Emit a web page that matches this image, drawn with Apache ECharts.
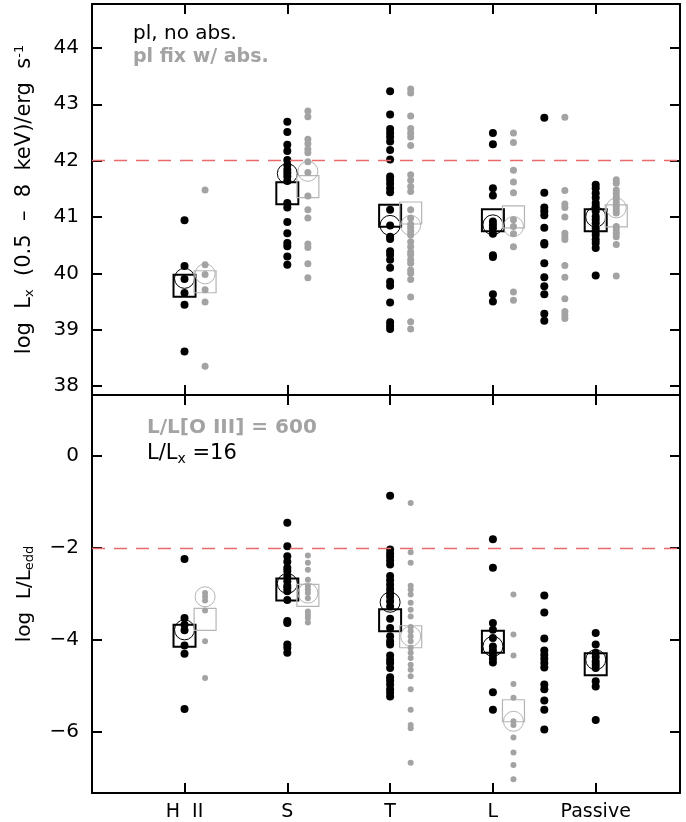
<!DOCTYPE html>
<html><head><meta charset="utf-8">
<script src="https://cdn.jsdelivr.net/npm/echarts@6/dist/echarts.min.js"></script>
<style>html,body{margin:0;padding:0;background:#fff}#c{width:686px;height:822px}</style>
</head><body><div id="c"></div>
<script>
// ---- categories ----
var categoryNames = ['H  II', 'S', 'T', 'L', 'Passive'];
var categoryPos = [1, 2, 3, 4, 5];
var extraGroupPos = 4.5;        // unlabeled group between L and Passive
var greyOffset = 0.2;
var topTicks = [38, 39, 40, 41, 42, 43, 44];
var bottomTicks = [-6, -4, -2, 0];
var thresholdTop = 42;
var thresholdBottom = -2;

// ---- top panel: log Lx ----
var hii_lx_pl  = [40.94, 40.13, 39.90, 39.65, 39.44, 38.61];
var hii_lx_fix = [41.48, 40.15, 39.98, 39.71, 39.49, 38.35];
var s_lx_pl  = [42.69, 42.51, 42.28, 42.17, 42.01, 41.92, 41.84, 41.78, 41.72, 41.64, 41.25, 41.17, 40.91, 40.71, 40.54, 40.48, 40.30, 40.15];
var s_lx_fix = [42.88, 42.78, 42.38, 42.30, 42.20, 42.14, 41.98, 41.79, 41.37, 41.13, 40.98, 40.52, 40.46, 40.17, 39.92];
var t_lx_pl  = [43.23, 42.82, 42.56, 42.49, 42.42, 42.34, 42.19, 42.02, 41.72, 41.66, 41.59, 41.51, 41.44, 41.13, 40.85, 40.65, 40.61, 40.39, 40.33, 40.24, 40.10, 39.85, 39.78, 39.48, 39.13, 39.07, 39.01];
var t_lx_fix = [43.27, 43.20, 42.79, 42.57, 42.49, 42.42, 42.27, 41.75, 41.65, 41.54, 41.45, 41.13, 40.98, 40.87, 40.81, 40.74, 40.68, 40.56, 40.47, 40.38, 40.33, 40.24, 40.18, 40.06, 40.00, 39.89, 39.58, 39.14, 39.01];
var l_lx_pl  = [42.49, 42.29, 41.51, 41.38, 40.92, 40.86, 40.80, 40.70, 40.32, 40.29, 39.63, 39.50];
var l_lx_fix = [42.49, 42.32, 41.83, 41.62, 41.43, 40.95, 40.83, 40.70, 40.47, 39.67, 39.52];
var g6_lx_pl  = [42.76, 41.43, 41.17, 41.10, 41.03, 40.81, 40.54, 40.51, 40.18, 39.93, 39.77, 39.63, 39.28, 39.16];
var g6_lx_fix = [42.77, 41.47, 41.23, 41.17, 41.00, 40.71, 40.65, 40.60, 40.14, 39.93, 39.55, 39.32, 39.26, 39.20];
var p_lx_pl  = [41.57, 41.51, 41.42, 41.34, 41.25, 41.19, 41.10, 41.01, 40.95, 40.89, 40.80, 40.74, 40.68, 40.60, 40.54, 40.45, 39.96];
var p_lx_fix = [41.66, 41.60, 41.48, 41.42, 41.36, 41.31, 41.25, 41.19, 41.13, 41.07, 40.83, 40.77, 40.71, 40.65, 40.51, 39.95];
// summary markers (per category H II, S, T, L, Passive)
var lx_pl_square  = [39.78, 41.42, 41.02, 40.94, 40.94];
var lx_pl_circle  = [39.91, 41.77, 40.85, 40.86, 41.00];
var lx_fix_square = [39.85, 41.54, 41.07, 41.00, 41.02];
var lx_fix_circle = [39.99, 41.81, 40.85, 40.83, 41.16];

// ---- bottom panel: log L/Ledd ----
var hii_edd_x  = [-2.24, -3.52, -3.67, -3.79, -4.12, -4.30, -5.50];
var hii_edd_o3 = [-2.98, -3.06, -3.14, -3.36, -4.03, -4.83];
var s_edd_x  = [-1.45, -1.96, -2.18, -2.30, -2.43, -2.50, -2.61, -2.72, -2.82, -2.87, -2.94, -3.13, -3.59, -3.63, -4.10, -4.17, -4.28];
var s_edd_o3 = [-2.16, -2.32, -2.47, -2.69, -2.83, -2.90, -2.98, -3.09, -3.38, -3.45, -3.52, -3.62];
var t_edd_x  = [-0.86, -2.03, -2.12, -2.19, -2.27, -2.36, -2.61, -2.70, -2.80, -2.89, -2.98, -3.06, -3.16, -3.27, -3.54, -3.74, -3.92, -4.03, -4.10, -4.34, -4.43, -4.50, -4.61, -4.81, -4.88, -4.97, -5.07, -5.15, -5.23];
var t_edd_o3 = [-1.02, -2.09, -2.32, -2.82, -2.90, -3.01, -3.19, -3.34, -3.49, -3.72, -3.81, -3.92, -4.03, -4.17, -4.28, -4.39, -4.54, -4.65, -4.79, -5.07, -5.52, -5.85, -5.92, -6.67];
var l_edd_x  = [-1.81, -2.43, -3.63, -3.78, -3.96, -4.14, -4.23, -4.32, -4.41, -4.49, -5.14, -5.52];
var l_edd_o3 = [-3.01, -3.88, -4.34, -4.96, -5.26, -5.77, -5.85, -6.12, -6.45, -6.72, -7.03];
var g6_edd_x = [-3.03, -3.40, -3.97, -4.23, -4.32, -4.41, -4.50, -4.60, -4.97, -5.07, -5.32, -5.52, -5.95];
var p_edd_x  = [-3.85, -4.10, -4.28, -4.37, -4.47, -4.54, -4.61, -4.90, -5.01, -5.74];
var edd_x_square  = [-3.91, -2.90, -3.57, -4.04, -4.53];
var edd_x_circle  = [-3.78, -2.77, -3.18, -4.14, -4.43];
var edd_o3_square = [-3.55, -3.03, -3.93, -5.54];   // H II, S, T, L
var edd_o3_circle = [-3.06, -2.98, -3.92, -5.77];

// ---- build ----
function pts(x, ys) { return ys.map(function (y) { return [x, y]; }); }
function cat(ys, off) { return ys.map(function (y, i) { return [categoryPos[i] + off, y]; }); }

var BLACK = '#000000', GREY = '#a3a3a3', GREYLINE = '#b5b5b5';
var FONT = 'DejaVu Sans';

var topBlack = [].concat(pts(1, hii_lx_pl), pts(2, s_lx_pl), pts(3, t_lx_pl), pts(4, l_lx_pl), pts(extraGroupPos, g6_lx_pl), pts(5, p_lx_pl));
var topGrey = [].concat(pts(1 + greyOffset, hii_lx_fix), pts(2 + greyOffset, s_lx_fix), pts(3 + greyOffset, t_lx_fix), pts(4 + greyOffset, l_lx_fix), pts(extraGroupPos + greyOffset, g6_lx_fix), pts(5 + greyOffset, p_lx_fix));
var botBlack = [].concat(pts(1, hii_edd_x), pts(2, s_edd_x), pts(3, t_edd_x), pts(4, l_edd_x), pts(extraGroupPos, g6_edd_x), pts(5, p_edd_x));
var botGrey = [].concat(pts(1 + greyOffset, hii_edd_o3), pts(2 + greyOffset, s_edd_o3), pts(3 + greyOffset, t_edd_o3), pts(4 + greyOffset, l_edd_o3));

var X_MIN = 0.1, X_MAX = 5.82;

function xAx(gi, pos, labels) {
  return {
    type: 'value', gridIndex: gi, position: pos, min: X_MIN, max: X_MAX,
    axisLine: { show: true, onZero: false, lineStyle: { color: '#000', width: 2 } },
    axisTick: { show: true, inside: true, length: 10, lineStyle: { color: '#000', width: 2 }, customValues: categoryPos },
    axisLabel: labels ? { show: true, customValues: categoryPos, margin: 10, color: '#000', fontFamily: FONT, fontSize: 19,
      formatter: function (v) { return categoryNames[Math.round(v) - 1] || ''; } } : { show: false },
    splitLine: { show: false }
  };
}
function yAx(gi, pos, min, max, ticks, labels, name) {
  var a = {
    type: 'value', gridIndex: gi, position: pos, min: min, max: max,
    axisLine: { show: true, onZero: false, lineStyle: { color: '#000', width: 2 } },
    axisTick: { show: true, inside: true, length: 10, lineStyle: { color: '#000', width: 2 }, customValues: ticks },
    axisLabel: labels ? { show: true, customValues: ticks, margin: 13, color: '#000', fontFamily: FONT, fontSize: 20,
      formatter: function (v) { return v < 0 ? '\u2212' + Math.abs(v) : String(v); } } : { show: false },
    splitLine: { show: false }
  };
  if (name) {
    a.name = name.text;
    a.nameLocation = 'middle';
    a.nameRotate = 90;
    a.nameGap = 56;
    a.nameTextStyle = { color: '#000', fontFamily: FONT, fontSize: name.size, rich: name.rich };
  }
  return a;
}

var richName = {
  sub: { fontFamily: FONT, fontSize: 13, color: '#000', padding: [10, 0, 0, 0] },
  sup: { fontFamily: FONT, fontSize: 13, color: '#000', padding: [0, 0, 10, 0] }
};

function dots(xi, yi, data, color, size, z) {
  return { type: 'scatter', xAxisIndex: xi, yAxisIndex: yi, data: data, symbol: 'circle', symbolSize: size,
    itemStyle: { color: color, opacity: 1 }, silent: true, z: z || 3 };
}
function outline(xi, yi, data, symbol, size, color, width) {
  return { type: 'scatter', xAxisIndex: xi, yAxisIndex: yi, data: data, symbol: symbol, symbolSize: size,
    itemStyle: { color: 'rgba(0,0,0,0)', borderColor: color, borderWidth: width, opacity: 1 }, silent: true, z: 2 };
}
function refLine(xi, yi, y) {
  return { type: 'line', xAxisIndex: xi, yAxisIndex: yi, data: [], silent: true,
    markLine: { silent: true, symbol: ['none', 'none'], label: { show: false },
      lineStyle: { color: '#e86a6a', type: [13, 9], width: 1.3 }, data: [{ yAxis: y }] } };
}

var option = {
  animation: false,
  backgroundColor: '#fff',
  grid: [
    { left: 92, top: 4, width: 588, height: 391 },
    { left: 92, top: 395, width: 588, height: 398 }
  ],
  xAxis: [xAx(0, 'bottom', false), xAx(0, 'top', false), xAx(1, 'bottom', true), xAx(1, 'top', false)],
  yAxis: [
    yAx(0, 'left', 37.84, 44.78, topTicks, true, { text: 'log  L{sub|x}  (0.5  \u2013  8  keV)/erg  s{sup|-1}', rich: richName, size: 21 }),
    yAx(0, 'right', 37.84, 44.78, topTicks, false),
    yAx(1, 'left', -7.33, 1.33, bottomTicks, true, { text: 'log  L/L{sub|edd}', rich: richName, size: 20 }),
    yAx(1, 'right', -7.33, 1.33, bottomTicks, false)
  ],
  series: [
    refLine(0, 0, thresholdTop),
    refLine(2, 2, thresholdBottom),
    outline(0, 0, cat(lx_pl_square, 0), 'rect', 22, BLACK, 2),
    outline(0, 0, cat(lx_pl_circle, 0), 'circle', 20, BLACK, 1),
    outline(0, 0, cat(lx_fix_square, greyOffset), 'rect', 22, GREYLINE, 1.2),
    outline(0, 0, cat(lx_fix_circle, greyOffset), 'circle', 20, GREYLINE, 1),
    dots(0, 0, topGrey, GREY, 7),
    dots(0, 0, topBlack, BLACK, 8),
    outline(2, 2, cat(edd_x_square, 0), 'rect', 22, BLACK, 2),
    outline(2, 2, cat(edd_x_circle, 0), 'circle', 20, BLACK, 1),
    outline(2, 2, cat(edd_o3_square, greyOffset), 'rect', 22, GREYLINE, 1.2),
    outline(2, 2, cat(edd_o3_circle, greyOffset), 'circle', 20, GREYLINE, 1),
    dots(2, 2, botGrey, GREY, 6),
    dots(2, 2, botBlack, BLACK, 8)
  ],
  graphic: [
    { type: 'text', left: 133, top: 24, style: { text: 'pl, no abs.', fill: '#000', font: '20px "DejaVu Sans"' } },
    { type: 'text', left: 133, top: 48, style: { text: 'pl fix w/ abs.', fill: GREY, font: 'bold 19px "DejaVu Sans"' } },
    { type: 'text', left: 147, top: 418, style: { text: 'L/L[O III] = 600', fill: GREY, font: 'bold 20px "DejaVu Sans"' } },
    { type: 'text', left: 147, top: 443, style: {
        text: 'L/L{sub|x} =16', fill: '#000', font: '21px "DejaVu Sans"',
        rich: { sub: { fontFamily: FONT, fontSize: 14, fill: '#000', padding: [11, 0, 0, 0] } } } }
  ]
};

var chart = echarts.init(document.getElementById('c'), null, { renderer: 'canvas' });
chart.setOption(option);
</script>
</body></html>
